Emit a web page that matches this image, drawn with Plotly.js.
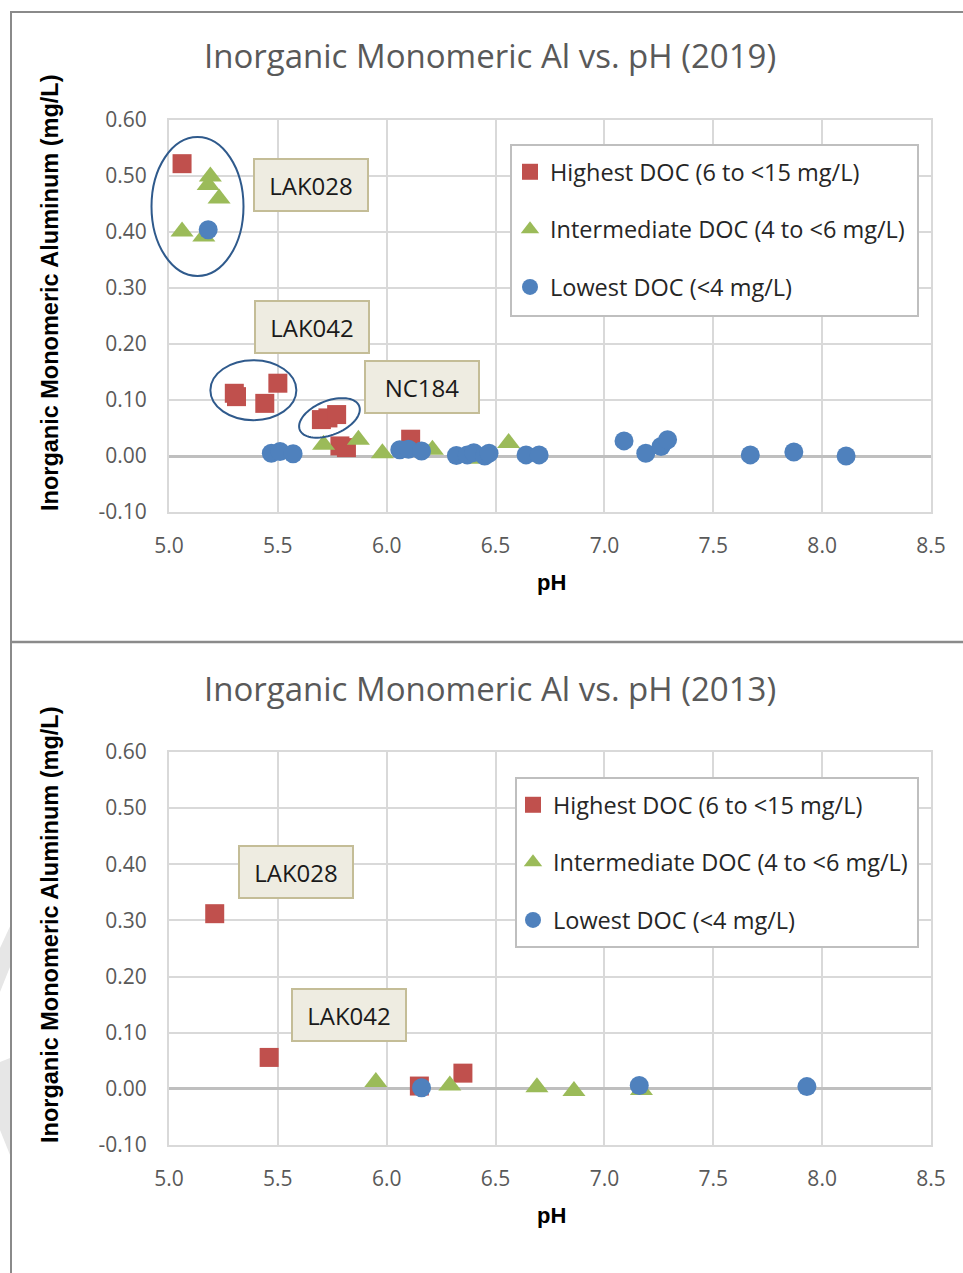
<!DOCTYPE html>
<html>
<head>
<meta charset="utf-8">
<script src="https://cdn.plot.ly/plotly-3.0.1.min.js"></script>
<style>html,body{margin:0;padding:0;background:#fff;}#chart{width:963px;height:1273px;}</style>
</head>
<body>
<div id="chart"></div>
<script>
// ---------- DATA ----------
const seriesNames = ["Highest DOC (6 to <15 mg/L)", "Intermediate DOC (4 to <6 mg/L)", "Lowest DOC (<4 mg/L)"];

// 2019
const high2019_pH = [5.06, 5.30, 5.31, 5.44, 5.50, 5.70, 5.73, 5.77, 5.785, 5.815, 6.11];
const high2019_Al = [0.522, 0.112, 0.106, 0.094, 0.130, 0.065, 0.068, 0.074, 0.018, 0.015, 0.030];
const int2019_pH  = [5.06, 5.16, 5.18, 5.19, 5.23, 5.71, 5.87, 5.98, 6.21, 6.42, 6.56];
const int2019_Al  = [0.401, 0.392, 0.484, 0.499, 0.460, 0.020, 0.029, 0.005, 0.011, -0.005, 0.023];
const low2019_pH  = [5.18, 5.47, 5.51, 5.57, 6.06, 6.10, 6.16, 6.32, 6.37, 6.40, 6.45, 6.47, 6.64, 6.70, 7.09, 7.19, 7.26, 7.29, 7.67, 7.87, 8.11];
const low2019_Al  = [0.404, 0.005, 0.008, 0.004, 0.011, 0.012, 0.009, 0.001, 0.002, 0.006, 0.000, 0.005, 0.002, 0.002, 0.027, 0.005, 0.017, 0.029, 0.002, 0.007, 0.000];

// 2013
const high2013_pH = [5.21, 5.46, 6.15, 6.35];
const high2013_Al = [0.312, 0.056, 0.005, 0.028];
const int2013_pH  = [5.95, 6.29, 6.69, 6.86, 7.17];
const int2013_Al  = [0.012, 0.006, 0.003, -0.004, -0.002];
const low2013_pH  = [6.16, 7.16, 7.93];
const low2013_Al  = [0.002, 0.006, 0.004];

const xTickVals = [5.0, 5.5, 6.0, 6.5, 7.0, 7.5, 8.0, 8.5];
const xTickText = ["5.0", "5.5", "6.0", "6.5", "7.0", "7.5", "8.0", "8.5"];
const yTickVals = [-0.10, 0.00, 0.10, 0.20, 0.30, 0.40, 0.50, 0.60];
const yTickText = ["-0.10", "0.00", "0.10", "0.20", "0.30", "0.40", "0.50", "0.60"];

// ---------- STYLE ----------
const W = 963, H = 1273;
const colRed = "#c0504d", colGreen = "#9bbb59", colBlue = "#4f81bd";
const tickGray = "#595959";
const px = v => v / W;
const py = v => 1 - v / H;

function mk(x, y, name, sym, color, size, xa, ya, leg) {
  return {
    x: x, y: y, type: "scatter", mode: "markers", name: name,
    marker: {symbol: sym, color: color, size: size, line: {width: 0}},
    xaxis: xa, yaxis: ya, legend: leg, legendgroup: leg + name, showlegend: true
  };
}

const traces = [
  mk(high2019_pH, high2019_Al, seriesNames[0], "square", colRed, 19, "x", "y", "legend"),
  mk(int2019_pH, int2019_Al, seriesNames[1], "triangle-up", colGreen, 20, "x", "y", "legend"),
  mk(low2019_pH, low2019_Al, seriesNames[2], "circle", colBlue, 19, "x", "y", "legend"),
  mk(high2013_pH, high2013_Al, seriesNames[0], "square", colRed, 19, "x2", "y2", "legend2"),
  mk(int2013_pH, int2013_Al, seriesNames[1], "triangle-up", colGreen, 20, "x2", "y2", "legend2"),
  mk(low2013_pH, low2013_Al, seriesNames[2], "circle", colBlue, 19, "x2", "y2", "legend2")
];

const tickFont = {family: "Open Sans, sans-serif", size: 21, color: tickGray};
function xAxis(dom, anchor) {
  return {
    domain: dom, anchor: anchor, range: [5.0, 8.5], tickvals: xTickVals, ticktext: xTickText,
    showgrid: true, gridcolor: "#d9d9d9", gridwidth: 2,
    showline: true, linecolor: "#d9d9d9", linewidth: 2, mirror: true,
    zeroline: false, ticks: "", tickfont: tickFont, ticklabelstandoff: 14, automargin: false, fixedrange: true
  };
}
function yAxis(dom, anchor) {
  return {
    domain: dom, anchor: anchor, range: [-0.10, 0.60], tickvals: yTickVals, ticktext: yTickText,
    showgrid: true, gridcolor: "#d9d9d9", gridwidth: 2,
    showline: true, linecolor: "#d9d9d9", linewidth: 2, mirror: true,
    zeroline: true, zerolinecolor: "#bfbfbf", zerolinewidth: 3,
    ticks: "", tickfont: tickFont, ticklabelstandoff: 16, automargin: false, fixedrange: true
  };
}

const legendFont = {family: "Open Sans, sans-serif", size: 23.5, color: "#262626"};
function legendCfg(xp, yp) {
  return {
    x: px(xp), y: py(yp), xanchor: "left", yanchor: "top", xref: "paper", yref: "paper",
    bgcolor: "rgba(0,0,0,0)", borderwidth: 0,
    font: legendFont, tracegroupgap: 24, itemwidth: 30, traceorder: "grouped"
  };
}

// label boxes
function labelBox(text, x, y, xr, yr) {
  return {
    text: text, x: x, y: y, xref: xr, yref: yr, showarrow: false, xanchor: "center", yanchor: "middle",
    font: {family: "Open Sans, sans-serif", size: 24, color: "#1a1a1a"},
    bgcolor: "#eeece1", bordercolor: "#c4bd97", borderwidth: 2, borderpad: 2,
    width: 108, height: 46, align: "center", valign: "middle"
  };
}

// rotated ellipse outline (pixel-based geometry converted to data units)
function ellipsePath(cx, cy, rxPx, ryPx, angDeg, pxPerX, pxPerY) {
  const a = angDeg * Math.PI / 180;
  let d = "";
  for (let i = 0; i <= 72; i++) {
    const t = i / 72 * 2 * Math.PI;
    const ex = rxPx * Math.cos(t), ey = ryPx * Math.sin(t);
    const rx = ex * Math.cos(a) - ey * Math.sin(a);
    const ry = ex * Math.sin(a) + ey * Math.cos(a);
    const X = cx + rx / pxPerX, Y = cy + ry / pxPerY;
    d += (i === 0 ? "M" : "L") + X.toFixed(4) + "," + Y.toFixed(5);
  }
  return d + "Z";
}
const pxPerX = 762 / 3.5, pxPerY = 392 / 0.7;
const ellColor = "#2f5a8c";

const frameColor = "#8a8a8a";
function legendBox(x0, y0, x1, y1) {
  return {type: "rect", xref: "paper", yref: "paper", layer: "above",
          x0: px(x0), x1: px(x1), y0: py(y1), y1: py(y0),
          fillcolor: "#ffffff", line: {color: "#bfbfbf", width: 2}};
}
const shapes = [
  // page frame
  {type: "line", xref: "paper", yref: "paper", x0: px(10), x1: 1, y0: py(12), y1: py(12), line: {color: frameColor, width: 2}},
  {type: "line", xref: "paper", yref: "paper", x0: px(11), x1: px(11), y0: py(12), y1: 0, line: {color: frameColor, width: 2}},
  {type: "line", xref: "paper", yref: "paper", x0: px(11), x1: 1, y0: py(642), y1: py(642), line: {color: frameColor, width: 2.5}},
  // faint watermark pieces at left edge
  {type: "path", xref: "paper", yref: "paper", layer: "below", fillcolor: "#e6e6e6", line: {width: 0},
   path: "M0," + py(948) + " L" + px(12) + "," + py(922) + " L" + px(12) + "," + py(962) + " L0," + py(992) + " Z"},
  {type: "path", xref: "paper", yref: "paper", layer: "below", fillcolor: "#e6e6e6", line: {width: 0},
   path: "M0," + py(1062) + " L" + px(10) + "," + py(1058) + " L" + px(10) + "," + py(1155) + " L0," + py(1130) + " Z"},
  // ellipses (2019) - first one extends past the plot edge, so paper-referenced
  {type: "circle", xref: "paper", yref: "paper", x0: px(151.5), x1: px(243.5), y0: py(276), y1: py(137), line: {color: ellColor, width: 2}},
  {type: "circle", xref: "x", yref: "y", x0: 5.19, x1: 5.585, y0: 0.064, y1: 0.171, line: {color: ellColor, width: 2}},
  {type: "path", xref: "x", yref: "y", path: ellipsePath(5.737, 0.068, 32, 17, 22, pxPerX, pxPerY), line: {color: ellColor, width: 2}},
  // legend frames
  legendBox(511, 145, 918, 316),
  legendBox(516, 778, 918, 947)
];

const titleFont = {family: "Open Sans, sans-serif", size: 33, color: tickGray};
const axTitleFont = {family: "Liberation Sans, Arial, sans-serif", size: 23.5, color: "#000000"};
const phFont = {family: "Liberation Sans, Arial, sans-serif", size: 22, color: "#000000"};
function paperText(text, x, y, font, angle) {
  return {text: text, x: px(x), y: py(y), xref: "paper", yref: "paper", showarrow: false,
          xanchor: "center", yanchor: "middle", textangle: angle || 0, font: font};
}
const annotations = [
  paperText("Inorganic Monomeric Al vs. pH (2019)", 490, 56, titleFont),
  paperText("Inorganic Monomeric Al vs. pH (2013)", 490, 688, titleFont),
  paperText("<b>Inorganic Monomeric Aluminum (mg/L)</b>", 50, 293, axTitleFont, -90),
  paperText("<b>Inorganic Monomeric Aluminum (mg/L)</b>", 50, 925, axTitleFont, -90),
  paperText("<b>pH</b>", 551, 582, phFont),
  paperText("<b>pH</b>", 551, 1215, phFont),
  labelBox("LAK028", 5.651, 0.4845, "x", "y"),
  labelBox("LAK042", 5.655, 0.230, "x", "y"),
  labelBox("NC184", 6.164, 0.124, "x", "y"),
  labelBox("LAK028", 5.583, 0.387, "x2", "y2"),
  labelBox("LAK042", 5.827, 0.132, "x2", "y2")
];

const layout = {
  width: W, height: H, margin: {l: 0, r: 0, t: 0, b: 0, pad: 0},
  paper_bgcolor: "#ffffff", plot_bgcolor: "#ffffff",
  xaxis: xAxis([px(169), px(931)], "y"),
  yaxis: yAxis([py(512), py(120)], "x"),
  xaxis2: xAxis([px(169), px(931)], "y2"),
  yaxis2: yAxis([py(1145), py(752)], "x2"),
  legend: legendCfg(510, 150),
  legend2: legendCfg(513, 783),
  shapes: shapes,
  annotations: annotations,
  hovermode: false
};

Plotly.newPlot("chart", traces, layout, {staticPlot: true, displayModeBar: false});
</script>
</body>
</html>
